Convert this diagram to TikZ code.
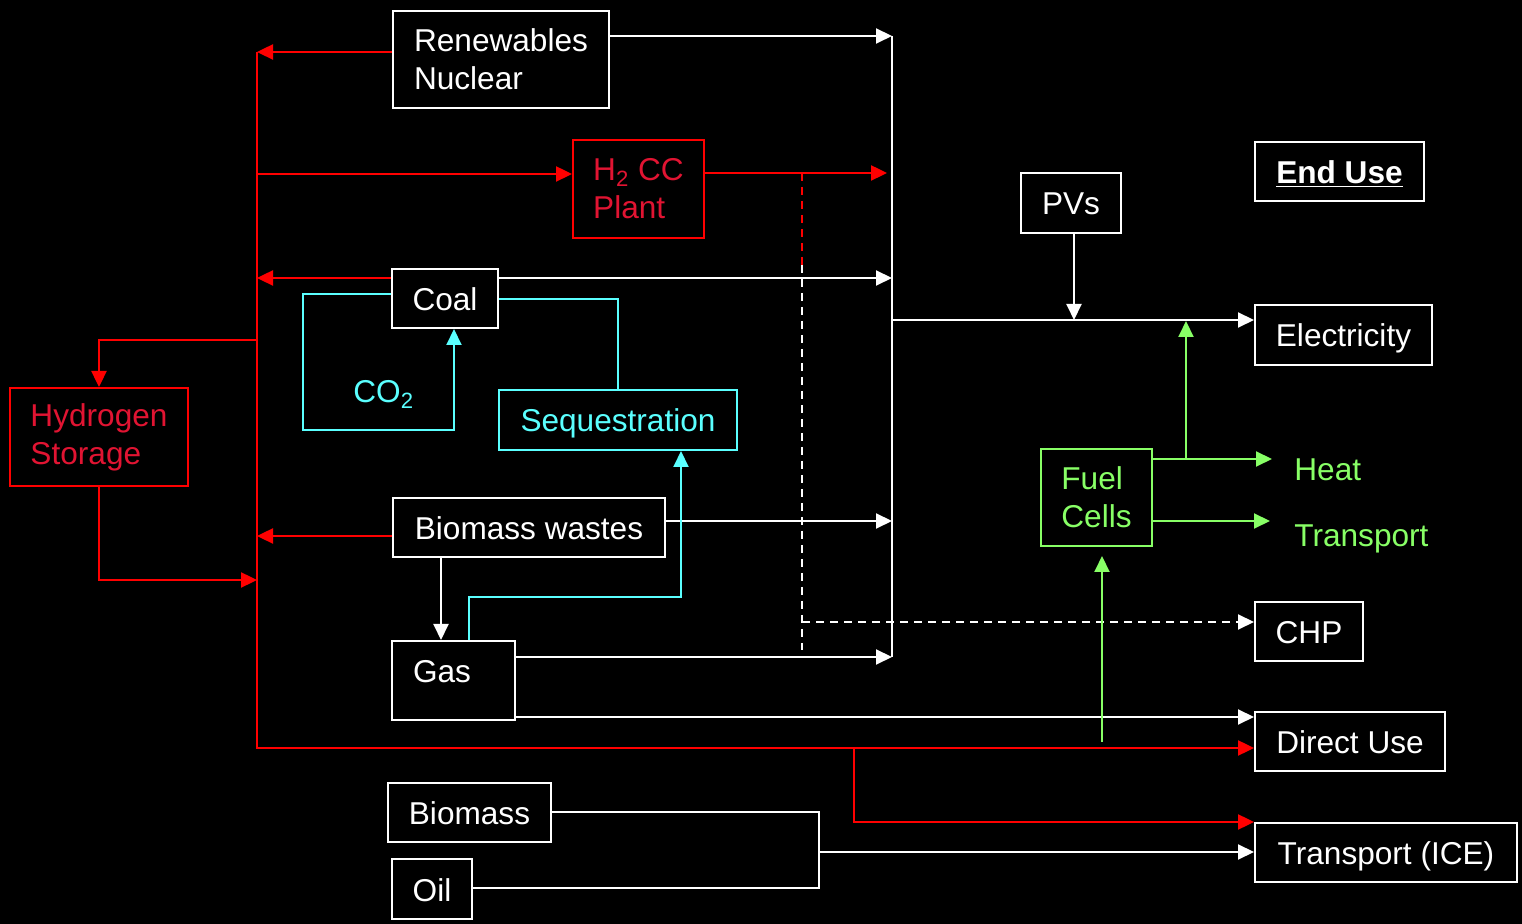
\documentclass[tikz,border=0pt]{standalone}
\usepackage{fontspec}
\setmainfont{Liberation Sans}
\usetikzlibrary{arrows.meta}
\definecolor{hred}{RGB}{255,0,0}
\definecolor{tred}{RGB}{225,20,50}
\definecolor{cy}{RGB}{90,255,255}
\definecolor{gr}{RGB}{136,255,102}
\newcommand\fsz{\fontsize{15.8}{19}\selectfont}
\begin{document}
\begin{tikzpicture}[x=0.5pt,y=-0.5pt,
  >={Triangle[length=8pt,width=7.5pt]},
  sz/.style 2 args={minimum width=#1*0.5pt, minimum height=#2*0.5pt},
  box/.style={draw, line width=1pt, inner sep=0pt, align=left, font=\fsz},
  one/.style={text height=14pt, text depth=2pt},
  wbox/.style={box, draw=white, text=white},
  rbox/.style={box, draw=hred, text=tred},
  cbox/.style={box, draw=cy, text=cy},
  gbox/.style={box, draw=gr, text=gr},
  wtext/.style={inner sep=0pt, font=\fsz, text=white},
  gtext/.style={inner sep=0pt, font=\fsz, text=gr},
  ctext/.style={inner sep=0pt, font=\fsz, text=cy},
  wl/.style={draw=white, line width=1pt},
  rl/.style={draw=hred, line width=1.2pt},
  cl/.style={draw=cy, line width=1pt},
  gl/.style={draw=gr, line width=1pt},
  dsh/.style={dash pattern=on 4pt off 3pt}]
\fill[black] (0,0) rectangle (1522,924);
\useasboundingbox (0,0) rectangle (1522,924);

% boxes
\node[wbox, sz={216}{97}] (ren) at (501,59.5) {Renewables\\Nuclear};
\node[rbox, sz={131}{98}] (h2) at (638.5,189) {H\textsubscript{2} CC\\Plant};
\node[wbox, one, sz={106}{59}] (coal) at (445,298.5) {Coal};
\node[cbox, one, sz={238}{60}] (seq) at (618,420) {Sequestration};
\node[rbox, sz={178}{98}] (hs) at (99,437) {Hydrogen\\Storage};
\node[wbox, one, sz={272}{59}] (bw) at (529,527.5) {Biomass wastes};
\node[wbox, sz={123}{79}] (gas) at (453.5,680.5) {};
\node[wtext, anchor=base] (gaslbl) at (442,683) {Gas};
\node[wbox, one, sz={163}{59}] (bio) at (469.5,812.5) {Biomass};
\node[wbox, one, sz={80}{60}] (oil) at (432,889) {Oil};
\node[wbox, one, sz={100}{60}] (pv) at (1071,203) {PVs};
\node[wbox, one, sz={169}{59}] (eu) at (1339.5,171.5) {\textbf{\underline{End Use}}};
\node[wbox, one, sz={177}{60}] (elec) at (1343.5,335) {Electricity};
\node[gbox, sz={111}{97}] (fc) at (1096.5,497.5) {Fuel\\Cells};
\node[gtext, anchor=base west] (heat) at (1294,481) {Heat};
\node[gtext, anchor=base west] (trn) at (1294,547) {Transport};
\node[wbox, one, sz={108}{59}] (chp) at (1309,631.5) {CHP};
\node[wbox, one, sz={190}{59}] (du) at (1350,741.5) {Direct Use};
\node[wbox, one, sz={262}{59}] (tice) at (1386,852.5) {Transport (ICE)};
\node[ctext, anchor=base west] (co2) at (353,403) {CO\textsubscript{2}};

% white bus
\coordinate (bt) at (892,36);
\coordinate (bb) at (892,657);
\coordinate (bc) at (892,278);
\coordinate (bw1) at (892,521);
\coordinate (be) at (892,320);
\coordinate (pvj) at (1074,320);
\coordinate (gd) at (1255,717);
\draw[wl] (bt) -- (bb);
\draw[wl,->] (ren.east |- bt) -- (bt);
\draw[wl,->] (coal.east |- bc) -- (bc);
\draw[wl,->] (bw.east |- bw1) -- (bw1);
\draw[wl,->] (gas.east |- bb) -- (bb);
\draw[wl,->] (be) -- (elec.west |- be);
\draw[wl,->] (pv.south -| pvj) -- (pvj);
\draw[wl,->] (gas.east |- gd) -- (du.west |- gd);

% dashed lines
\coordinate (dt) at (802,173);
\coordinate (dm) at (802,265);
\coordinate (db) at (802,650);
\coordinate (dc) at (802,622);
\draw[rl,dsh,line width=1pt] (dt) -- (dm);
\draw[wl,dsh] (dm) -- (db);
\draw[wl,dsh,->] (dc) -- (chp.west |- dc);

% H2 CC output
\coordinate (h2o) at (887,173);
\draw[rl,->] (h2.east |- h2o) -- (h2o);

% red bus
\coordinate (rt) at (257,52);
\coordinate (rb) at (257,748);
\coordinate (rc) at (257,278);
\coordinate (rbw) at (257,536);
\coordinate (rh) at (257,174);
\coordinate (rs) at (257,340);
\coordinate (rs2) at (257,580);
\coordinate (rx) at (854,748);
\coordinate (rx2) at (854,822);
\draw[rl,->] (rt) -- (rb) -- (du.west |- rb);
\draw[rl,->] (ren.west |- rt) -- (rt);
\draw[rl,->] (coal.west |- rc) -- (rc);
\draw[rl,->] (bw.west |- rbw) -- (rbw);
\draw[rl,->] (rh) -- (h2.west |- rh);
\draw[rl,->] (rs) -| (hs.north);
\draw[rl,->] (hs.south) |- (rs2);
\draw[rl,->] (rx) -- (rx2) -- (tice.west |- rx2);

% cyan
\coordinate (c1) at (303,294);
\coordinate (c2) at (454,430);
\coordinate (c3) at (618,299);
\coordinate (c4) at (469,597);
\coordinate (c5) at (681,597);
\draw[cl,->] (coal.west |- c1) -- (c1) |- (c2) -- (coal.south -| c2);
\draw[cl] (coal.east |- c3) -- (c3) -- (seq.north);
\draw[cl,->] (gas.north -| c4) -- (c4) -- (c5) -- (seq.south -| c5);

% biomass wastes to gas
\coordinate (wg) at (441,600);
\draw[wl,->] (bw.south -| wg) -- (gas.north -| wg);

% green
\coordinate (g1) at (1102,742);
\coordinate (gh) at (1272,459);
\coordinate (gv) at (1186,459);
\coordinate (gvt) at (1186,321);
\coordinate (trj) at (1270,521);
\draw[gl,->,shorten >=4.5pt] (g1) -- (fc.south -| g1);
\draw[gl,->] (fc.east |- gh) -- (gh);
\draw[gl,->] (gv) -- (gvt);
\draw[gl,->] (fc.east |- trj) -- (trj);

% biomass / oil bracket
\coordinate (bk1) at (819,812);
\coordinate (bk2) at (819,888);
\coordinate (bk3) at (819,852);
\draw[wl] (bio.east |- bk1) -- (bk1) -- (bk2) -- (oil.east |- bk2);
\draw[wl,->] (bk3) -- (tice.west |- bk3);
\end{tikzpicture}
\end{document}
